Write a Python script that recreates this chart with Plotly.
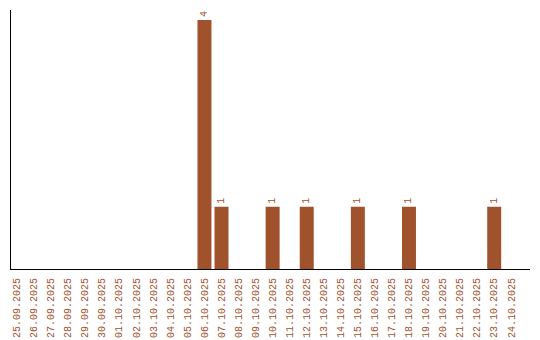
import plotly.graph_objects as go

dates = ["25.09.2025", "26.09.2025", "27.09.2025", "28.09.2025", "29.09.2025", "30.09.2025",
         "01.10.2025", "02.10.2025", "03.10.2025", "04.10.2025", "05.10.2025", "06.10.2025",
         "07.10.2025", "08.10.2025", "09.10.2025", "10.10.2025", "11.10.2025", "12.10.2025",
         "13.10.2025", "14.10.2025", "15.10.2025", "16.10.2025", "17.10.2025", "18.10.2025",
         "19.10.2025", "20.10.2025", "21.10.2025", "22.10.2025", "23.10.2025", "24.10.2025"]
counts = [0, 0, 0, 0, 0, 0, 0, 0, 0, 0, 0, 4, 1, 0, 0, 1, 0, 1, 0, 0, 1, 0, 0, 1, 0, 0, 0, 0, 1, 0]
labels = [str(c) if c > 0 else "" for c in counts]

color = "#A0522D"
font_family = "Liberation Mono"

fig = go.Figure(go.Bar(
    x=dates, y=counts, text=labels, textposition="outside", textangle=-90,
    textfont=dict(family=font_family, size=10, color=color),
    marker=dict(color=color, line=dict(width=0)), width=0.82, cliponaxis=False,
))
fig.update_layout(
    width=540, height=340, margin=dict(l=11, r=10, t=10, b=71, autoexpand=False),
    paper_bgcolor="white", plot_bgcolor="white", showlegend=False,
    font=dict(family=font_family, size=10, color=color),
)
fig.update_xaxes(type="category", range=[-0.35, 30.1], showline=True, linecolor="black", linewidth=1,
                 showgrid=False, ticks="", tickangle=-90, ticklabelstandoff=4, automargin=False,
                 tickfont=dict(family=font_family, size=10, color=color))
fig.update_yaxes(range=[0, 4.16], showline=True, linecolor="black", linewidth=1,
                 showgrid=False, zeroline=False, showticklabels=False, ticks="", automargin=False)
fig.write_html("out.html")
